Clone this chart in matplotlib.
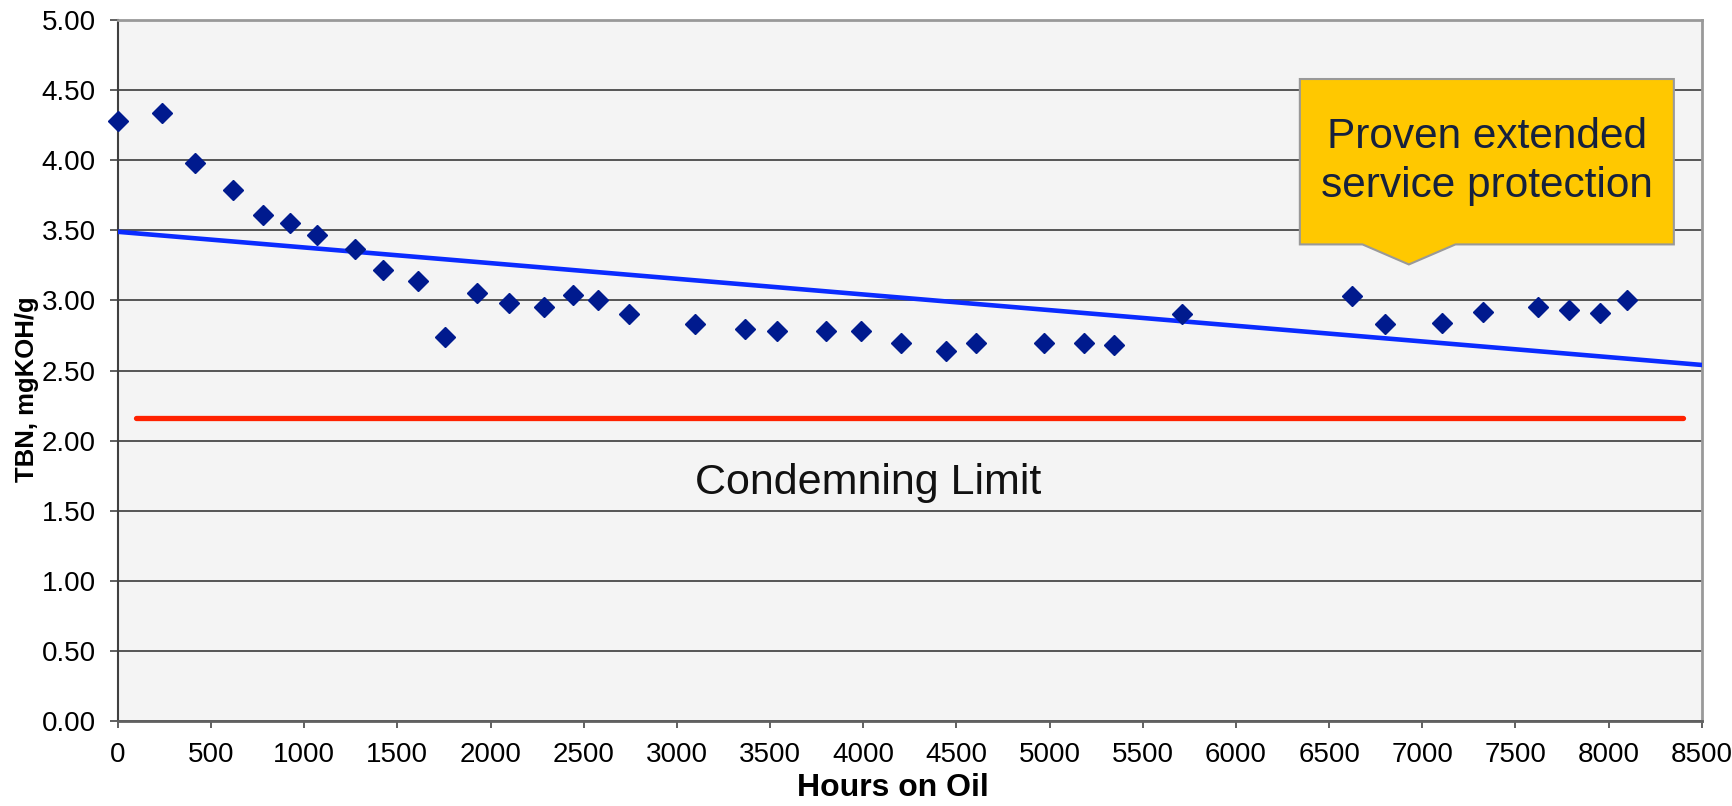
import numpy as np
import matplotlib
matplotlib.use('Agg')
import matplotlib.pyplot as plt
from matplotlib.patches import Polygon

plt.rcParams['font.family'] = ['Liberation Sans', 'DejaVu Sans']

# values
hours = [0, 237, 415, 617, 778, 926, 1068, 1270, 1425, 1609, 1757, 1929, 2101,
         2285, 2440, 2576, 2742, 3098, 3366, 3538, 3799, 3989, 4202, 4446, 4606,
         4968, 5182, 5348, 5710, 6624, 6802, 7105, 7325, 7622, 7788, 7954, 8096]
tbn = [4.28, 4.34, 3.98, 3.79, 3.61, 3.55, 3.47, 3.37, 3.22, 3.14, 2.74, 3.05, 2.98,
       2.95, 3.04, 3.00, 2.90, 2.83, 2.80, 2.78, 2.78, 2.78, 2.70, 2.64, 2.70,
       2.70, 2.70, 2.68, 2.90, 3.03, 2.83, 2.84, 2.92, 2.95, 2.93, 2.91, 3.00]

trend_hours = [0, 8500]
trend_tbn = [3.49, 2.54]

limit_hours = [100, 8400]
limit_tbn = [2.16, 2.16]

x_ticks = np.arange(0, 8501, 500)
y_ticks = np.arange(0, 5.01, 0.5)

# %%
fig = plt.figure(figsize=(17.33, 8.06), dpi=100)
ax = fig.add_axes([0.068, 0.1055, 0.914, 0.8695])
ax.set_facecolor('#f4f4f4')

ax.set_xlim(0, 8500)
ax.set_ylim(0, 5)
ax.set_xticks(x_ticks)
ax.set_yticks(y_ticks)
ax.set_yticklabels([f"{v:.2f}" for v in y_ticks])
ax.tick_params(axis='both', labelsize=20, color='#444444', direction='out')
ax.tick_params(axis='x', length=5, width=1.2, pad=10)
ax.tick_params(axis='y', length=6, width=1.2, pad=10)

ax.yaxis.grid(True, color='#3a3a3a', linewidth=1.2)
ax.set_axisbelow(True)

ax.spines['left'].set_color('#404040')
ax.spines['left'].set_linewidth(1.5)
ax.spines['bottom'].set_color('#606060')
ax.spines['bottom'].set_linewidth(2)
for s in ('top', 'right'):
    ax.spines[s].set_color('#999999')
    ax.spines[s].set_linewidth(2)

ax.plot(limit_hours, limit_tbn, color='#ff2200', linewidth=3.8,
        solid_capstyle='round', zorder=3)
ax.plot(trend_hours, trend_tbn, color='#0a2bff', linewidth=3.3, zorder=3)
ax.plot(hours, tbn, linestyle='none', marker='D', markersize=10.5,
        color='#001a8e', zorder=4, clip_on=False)

ax.text(4025, 1.70, "Condemning Limit", fontsize=31, ha='center',
        va='center', color='#111111')

# callout box
callout = Polygon([(6343, 4.58), (8350, 4.58), (8350, 3.40), (7178, 3.40),
                   (6928, 3.257), (6679, 3.40), (6343, 3.40)],
                  closed=True, facecolor='#ffc800', edgecolor='#999999',
                  linewidth=1.5, zorder=5)
ax.add_patch(callout)
ax.text(7346, 3.99, "Proven extended\nservice protection", fontsize=30.5,
        ha='center', va='center', color='#16213d', linespacing=1.3, zorder=6)

ax.set_xlabel("Hours on Oil", fontsize=23, fontweight='bold')
ax.set_ylabel("TBN, mgKOH/g", fontsize=18.5, fontweight='bold')
ax.xaxis.set_label_coords(0.489, -0.074)
ax.yaxis.set_label_coords(-0.0495, 0.474)

plt.savefig('out.png', dpi=100)
